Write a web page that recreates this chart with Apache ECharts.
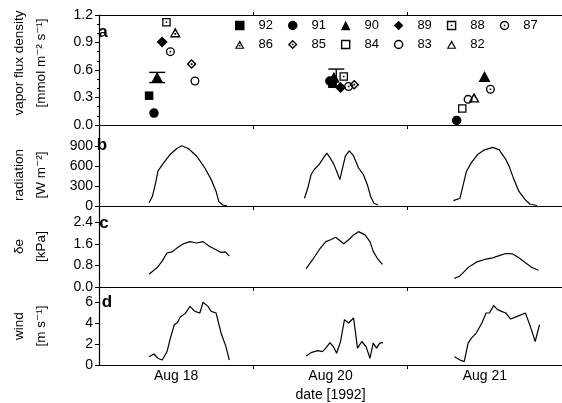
<!DOCTYPE html>
<html><head><meta charset="utf-8">
<script src="https://cdn.jsdelivr.net/npm/echarts@6/dist/echarts.min.js"></script>
<style>html,body{margin:0;padding:0;background:#fff}#c{width:562px;height:403px}</style>
</head><body><div id="c"></div>
<script>
// ---- x axis (hours since start of the plotted record; three stitched days) ----
const dayTickHours = [24, 48];
const dayLabelHours = [12, 36, 60];
const dayLabels = ['Aug 18', 'Aug 20', 'Aug 21'];

// ---- panel a: vapor flux density [mmol m-2 s-1], one array per code ----
const yearCodes = ['92','91','90','89','88','87','86','85','84','83','82'];
const flux92 = [[7.79,0.32],[36.3,0.45]];
const flux91 = [[8.55,0.13],[35.9,0.48],[55.62,0.05]];
const flux90 = [[9.05,0.52],[36.53,0.52],[59.95,0.53]];
const flux89 = [[9.82,0.905],[37.56,0.41]];
const flux88 = [[10.49,1.12],[38.06,0.53]];
const flux87 = [[11.1,0.80],[38.82,0.42],[60.87,0.39]];
const flux86 = [[11.86,1.01]];
const flux85 = [[14.4,0.665],[39.69,0.44]];
const flux84 = [[56.49,0.18]];
const flux83 = [[14.92,0.48],[57.4,0.28]];
const flux82 = [[58.32,0.30]];
const errHour = [9.05, 36.9];
const errLow = [0.463, 0.43];
const errHigh = [0.574, 0.61];

// ---- panel b: radiation [W m-2] ----
const radAug18 = [[7.79,50],[8.29,142],[8.81,346],[9.16,522],[10.08,650],[11.1,777],[12.11,863],[12.87,903],[13.89,863],[15.16,751],[16.44,574],[17.45,396],[18.21,218],[18.63,65],[19.24,15],[19.9,3]];
const radAug20 = [[31.95,117],[32.47,270],[32.98,472],[33.48,548],[34.24,624],[34.76,700],[35.42,792],[35.92,726],[36.53,624],[37.05,498],[37.45,396],[37.82,548],[38.32,751],[38.93,827],[39.59,751],[40.35,574],[41.11,472],[41.73,320],[42.24,142],[42.75,41],[43.4,15]];
const radAug21 = [[55.11,81],[56.14,117],[56.64,320],[57.15,522],[57.91,650],[58.93,777],[59.95,842],[61.22,879],[62.24,842],[63.25,700],[63.77,598],[64.53,396],[65.3,218],[66.31,91],[66.98,30],[68.1,8]];

// ---- panel c: vapour pressure deficit [kPa] ----
const vpdAug18 = [[7.79,0.47],[9.05,0.72],[9.82,0.96],[10.58,1.26],[11.34,1.30],[12.11,1.44],[13.13,1.60],[14.15,1.68],[15.16,1.63],[16.18,1.68],[17.21,1.50],[18.21,1.38],[18.98,1.28],[19.65,1.30],[20.26,1.14]];
const vpdAug20 = [[32.21,0.68],[33.24,1.02],[34.24,1.38],[35.27,1.68],[36.03,1.75],[36.79,1.84],[37.3,1.75],[38.06,1.60],[38.82,1.75],[39.59,1.93],[40.35,2.05],[41.37,1.93],[42.14,1.68],[42.64,1.32],[43.4,1.02],[44.08,0.84]];
const vpdAug21 = [[55.27,0.32],[56.14,0.41],[57.4,0.72],[58.67,0.92],[59.95,1.02],[61.22,1.08],[62.24,1.16],[63.25,1.24],[64.27,1.23],[65.3,1.08],[66.31,0.90],[67.33,0.72],[68.35,0.62]];

// ---- panel d: wind [m s-1] ----
const windAug18 = [[7.79,0.80],[8.55,1.06],[9.16,0.65],[9.82,0.48],[10.58,1.29],[11.1,2.58],[11.71,3.87],[12.21,4.09],[12.63,4.62],[13.39,4.94],[14.15,5.64],[14.92,5.16],[15.68,5.0],[16.18,6.03],[16.95,5.64],[17.45,5.16],[18.21,5.0],[18.98,3.07],[19.74,1.77],[20.26,0.48]];
const windAug20 = [[32.21,0.87],[32.98,1.19],[33.48,1.29],[34.0,1.38],[34.76,1.29],[35.27,1.62],[35.92,2.16],[36.44,1.77],[36.95,1.13],[37.56,2.26],[38.17,4.36],[38.82,4.04],[39.59,4.52],[40.2,1.62],[40.87,2.26],[41.53,1.77],[42.14,0.65],[42.64,2.10],[43.16,1.62],[43.66,2.10],[44.17,2.16]];
const windAug21 = [[55.27,0.80],[56.14,0.48],[56.79,0.32],[57.4,2.10],[57.91,2.58],[58.67,3.07],[59.54,4.04],[60.2,5.0],[60.72,5.0],[61.37,5.71],[61.98,5.32],[62.6,5.16],[63.25,5.0],[64.02,4.42],[65.04,4.68],[66.31,5.0],[67.07,3.71],[67.83,2.26],[68.5,3.87]];

// ---------------------------------------------------------------
const FONT = "'Liberation Sans', Arial, 'DejaVu Sans', sans-serif";
const BLACK = '#000';
const fluxData = {'92':flux92,'91':flux91,'90':flux90,'89':flux89,'88':flux88,'87':flux87,'86':flux86,'85':flux85,'84':flux84,'83':flux83,'82':flux82};

const SQ_OUT = 'M0,0L10,0L10,10L0,10Z', SQ_IN = 'M1.5,1.5L1.5,8.5L8.5,8.5L8.5,1.5Z';
const CI_OUT = 'M5,0A5,5,0,1,1,5,10A5,5,0,1,1,5,0Z', CI_IN = 'M5,1.5A3.5,3.5,0,1,0,5,8.5A3.5,3.5,0,1,0,5,1.5Z';
const TR_OUT = 'M5,0L10,9L0,9Z', TR_IN = 'M5,2.9L1.9,7.8L8.1,7.8Z';
const DI_OUT = 'M5,0L10,5L5,10L0,5Z', DI_IN = 'M5,2L2,5L5,8L8,5Z';
const DOT = 'M4.1,4.1L5.9,4.1L5.9,5.9L4.1,5.9Z';
const TDOT = 'M4.2,5.1L5.8,5.1L5.8,6.7L4.2,6.7Z';
const symbolOf = {
  '92': ['rect', 8.5], '91': ['circle', 9.5], '90': ['triangle', [12,11]], '89': ['diamond', 11],
  '88': ['path://' + SQ_OUT + SQ_IN + DOT, 8.5], '87': ['path://' + CI_OUT + CI_IN + DOT, 9],
  '86': ['path://' + TR_OUT + TR_IN + TDOT, [11,10]], '85': ['path://' + DI_OUT + DI_IN + DOT, 10],
  '84': ['path://' + SQ_OUT + SQ_IN, 8.5], '83': ['path://' + CI_OUT + CI_IN, 9],
  '82': ['path://' + TR_OUT + TR_IN, [11,10]]
};

const grids = [
  {left: 94, width: 472, top: 15, height: 110},
  {left: 94, width: 472, top: 126, height: 80},
  {left: 94, width: 472, top: 206, height: 81},
  {left: 94, width: 472, top: 287, height: 78}
];
const axisLine = {show: true, lineStyle: {color: BLACK, width: 1.2}};
const xAxes = grids.map((g, i) => ({
  type: 'value', gridIndex: i, min: 0, max: 72,
  axisLine: axisLine,
  axisTick: {show: true, customValues: dayTickHours, length: 4, lineStyle: {color: BLACK, width: 1}},
  axisLabel: i === 3 ? {
    show: true, customValues: dayLabelHours, margin: 4, color: BLACK, fontSize: 14, fontFamily: FONT,
    formatter: v => dayLabels[dayLabelHours.indexOf(v)] || ''
  } : {show: false},
  splitLine: {show: false},
  name: i === 3 ? 'date [1992]' : '', nameLocation: 'middle', nameGap: 23,
  nameTextStyle: {color: BLACK, fontSize: 14, fontFamily: FONT}
}));
xAxes.push({type: 'value', gridIndex: 0, position: 'top', min: 0, max: 72,
  axisLine: axisLine, axisTick: {show: true, customValues: dayTickHours, length: 3, lineStyle: {color: BLACK}},
  axisLabel: {show: false}, splitLine: {show: false}});

function yAxis(i, min, max, interval, dec, name, hideMax, minor, namePad) {
  return {
    type: 'value', gridIndex: i, min: min, max: max, interval: interval,
    axisLine: axisLine,
    axisTick: {show: true, length: 4, lineStyle: {color: BLACK, width: 1}},
    minorTick: minor ? {show: true, splitNumber: 3, length: 2, lineStyle: {color: BLACK}} : {show: false},
    axisLabel: {color: BLACK, fontSize: 14, fontFamily: FONT, margin: 6, showMaxLabel: !hideMax,
      formatter: v => v.toFixed(dec)},
    splitLine: {show: false}, minorSplitLine: {show: false},
    name: name, nameLocation: 'middle', nameRotate: 90, nameGap: 47,
    nameTextStyle: {color: BLACK, fontSize: 13.5, lineHeight: 22, fontFamily: FONT, padding: namePad || 0}
  };
}
const yAxes = [
  yAxis(0, 0, 1.2, 0.3, 1, 'vapor flux density\n[mmol m\u207B\u00B2 s\u207B\u00B9]', false, true, [0, 0, 0, 14]),
  yAxis(1, 0, 1200, 300, 0, 'radiation\n[W m\u207B\u00B2]', true, false, [0, 18, 0, 0]),
  yAxis(2, 0, 3, 0.8, 1, '\u03B4e\n[kPa]', true, false),
  yAxis(3, 0, 7.5, 2, 0, 'wind\n[m s\u207B\u00B9]', true, false)
];

const series = [];
series.push({
  type: 'custom', xAxisIndex: 0, yAxisIndex: 0, silent: true, z: 1,
  data: errHour.map((h, k) => [h, errLow[k], errHigh[k]]),
  renderItem: (params, api) => {
    const lo = api.coord([api.value(0), api.value(1)]);
    const hi = api.coord([api.value(0), api.value(2)]);
    const w = 8;
    const st = {stroke: BLACK, lineWidth: 1.4};
    return {type: 'group', children: [
      {type: 'line', shape: {x1: lo[0], y1: lo[1], x2: hi[0], y2: hi[1]}, style: st},
      {type: 'line', shape: {x1: lo[0]-w, y1: lo[1], x2: lo[0]+w, y2: lo[1]}, style: st},
      {type: 'line', shape: {x1: hi[0]-w, y1: hi[1], x2: hi[0]+w, y2: hi[1]}, style: st}
    ]};
  }
});
yearCodes.forEach(code => {
  series.push({
    type: 'scatter', name: code, xAxisIndex: 0, yAxisIndex: 0, z: 3,
    symbol: symbolOf[code][0], symbolSize: symbolOf[code][1],
    itemStyle: {color: BLACK, opacity: 1}, data: fluxData[code]
  });
});
function lineSeries(idx, data) {
  return {type: 'line', xAxisIndex: idx, yAxisIndex: idx, data: data, showSymbol: false, symbol: 'none',
    lineStyle: {color: BLACK, width: 1.2}, silent: true};
}
[radAug18, radAug20, radAug21].forEach(d => series.push(lineSeries(1, d)));
[vpdAug18, vpdAug20, vpdAug21].forEach(d => series.push(lineSeries(2, d)));
[windAug18, windAug20, windAug21].forEach(d => series.push(lineSeries(3, d)));

const legendBase = {orient: 'horizontal', left: 235, padding: 0, itemWidth: 9.5, itemHeight: 9.5, itemGap: 15,
  selectedMode: false, textStyle: {color: BLACK, fontSize: 13, fontFamily: FONT, padding: [0, 0, 0, 9]}};

const panelLetters = [['a', 103, 32], ['b', 102, 145], ['c', 104, 223], ['d', 107, 302]];

const chart = echarts.init(document.getElementById('c'), null, {renderer: 'canvas'});
chart.setOption({
  backgroundColor: '#fff',
  animation: false,
  grid: grids,
  xAxis: xAxes,
  yAxis: yAxes,
  legend: [
    Object.assign({}, legendBase, {top: 19, data: yearCodes.slice(0, 6)}),
    Object.assign({}, legendBase, {top: 38, data: yearCodes.slice(6)})
  ],
  graphic: panelLetters.map(p => ({
    type: 'text', x: p[1], y: p[2],
    style: {text: p[0], fill: BLACK, font: 'bold 17px ' + FONT, textAlign: 'center', textVerticalAlign: 'middle'}
  })),
  series: series
});
</script></body></html>
